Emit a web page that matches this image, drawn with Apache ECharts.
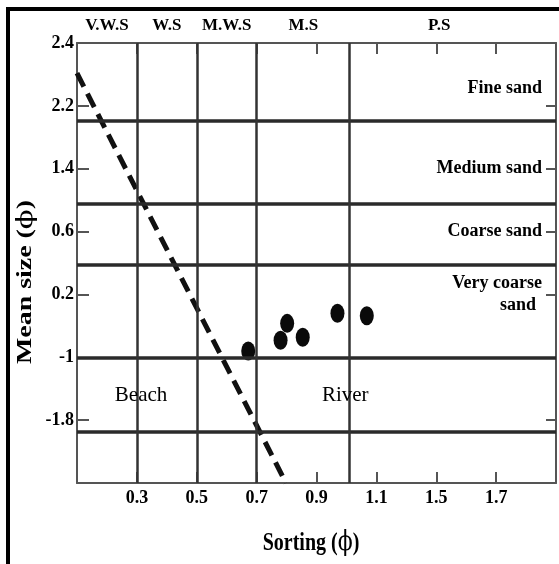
<!DOCTYPE html>
<html>
<head>
<meta charset="utf-8">
<script src="https://cdn.jsdelivr.net/npm/echarts@6/dist/echarts.min.js"></script>
<style>
html,body{margin:0;padding:0;background:#fff;}
#chart{width:559px;height:564px;}
</style>
</head>
<body>
<div id="chart"></div>
<script>
// ---- data (axis positions: the printed axes are ordinal, evenly spaced ticks) ----
var xTickLabels = ['', '0.3', '0.5', '0.7', '0.9', '1.1', '1.5', '1.7', ''];
var yTickLabels = ['', '-1.8', '-1', '0.2', '0.6', '1.4', '2.2', '2.4'];
var sizeClassLabels = ['', '', '', 'Very coarse\nsand', 'Coarse sand', 'Medium sand', 'Fine sand', ''];
var sortingClasses = ['V.W.S', 'W.S', 'M.W.S', 'M.S', 'P.S'];
var sortingClassPos = [0.5, 1.5, 2.5, 3.78, 6.05];
var sortingClassLevel = 7.27;
var sizeBoundaries = [5.76, 4.44, 3.47, 2.0, 0.81];
var sortingBoundaries = [1, 2, 3, 4.55];
var sampleSorting = [2.86, 3.40, 3.51, 3.77, 4.35, 4.84];
var sampleMean = [2.10, 2.27, 2.54, 2.32, 2.70, 2.66];
var divideLine = [[0, 6.52], [3.49, 0]];
var envNames = ['Beach', 'River'];
var envX = [1.07, 4.48];
var envY = [1.40, 1.40];

var FONT = 'Liberation Serif';
var chart = echarts.init(document.getElementById('chart'), null, {renderer: 'canvas'});

var axisLineStyle = {color: '#555', width: 2};
function xAx(pos, showLabel) {
  return {
    type: 'value', min: 0, max: 8, interval: 1, position: pos,
    axisLine: {show: true, onZero: false, lineStyle: axisLineStyle},
    axisTick: {show: true, inside: true, length: 11, lineStyle: axisLineStyle},
    axisLabel: {show: showLabel, formatter: function (v) { return xTickLabels[v] || ''; },
      color: '#000', fontFamily: FONT, fontWeight: 'bold', fontSize: 18, margin: 6},
    splitLine: {show: false}
  };
}

var option = {
  animation: false,
  backgroundColor: '#fff',
  grid: {left: 77, top: 43, width: 484, height: 440, containLabel: false},
  xAxis: [xAx('bottom', true), xAx('top', false)],
  yAxis: [
    {
      type: 'value', min: 0, max: 7, interval: 1, position: 'left',
      axisLine: {show: true, onZero: false, lineStyle: axisLineStyle},
      axisTick: {show: true, inside: true, length: 12, lineStyle: axisLineStyle},
      axisLabel: {formatter: function (v) { return yTickLabels[v] || ''; },
        color: '#000', fontFamily: FONT, fontWeight: 'bold', fontSize: 18, margin: 3},
      splitLine: {show: false}
    },
    {
      type: 'value', min: 0, max: 7, interval: 1, position: 'right',
      axisLine: {show: true, onZero: false, lineStyle: axisLineStyle},
      axisTick: {show: true, inside: true, length: 10, lineStyle: axisLineStyle},
      axisLabel: {
        inside: true, margin: 14,
        formatter: function (v) {
          var t = sizeClassLabels[v] || '';
          if (!t) return '';
          if (v === 6) return '{up|' + t + '}';
          if (t.indexOf('\n') >= 0) {
            var parts = t.split('\n');
            return '{vc|' + parts[0] + '}\n{vs|' + parts[1] + '}';
          }
          return t;
        },
        color: '#000', fontFamily: FONT, fontWeight: 'bold', fontSize: 18, align: 'right',
        rich: {
          up: {fontFamily: FONT, fontWeight: 'bold', fontSize: 18, color: '#000', padding: [0, 0, 36, 0]},
          vc: {fontFamily: FONT, fontWeight: 'bold', fontSize: 18, color: '#000', lineHeight: 22, align: 'right'},
          vs: {fontFamily: FONT, fontWeight: 'bold', fontSize: 18, color: '#000', lineHeight: 22, align: 'right', padding: [0, 6, 0, 0]}
        }
      },
      splitLine: {show: false}
    }
  ],
  graphic: [
    {type: 'rect', shape: {x: 6, y: 7, width: 4, height: 557}, style: {fill: '#000'}, z: 100},
    {type: 'rect', shape: {x: 6, y: 7, width: 553, height: 4}, style: {fill: '#000'}, z: 100},
    {
      type: 'text', x: 311, y: 543, scaleY: 1.3, z: 100,
      style: {
        text: '{b|Sorting (}{p|ϕ}{b|)}', align: 'center', verticalAlign: 'middle',
        rich: {
          b: {fontFamily: FONT, fontWeight: 'bold', fontSize: 20, fill: '#000'},
          p: {fontFamily: 'DejaVu Serif', fontWeight: 'normal', fontSize: 22, fill: '#000'}
        }
      }
    },
    {
      type: 'text', x: 26, y: 282, rotation: Math.PI / 2, scaleX: 1.33, z: 100,
      style: {
        text: '{b|Mean size (}{p|ϕ}{b|)}', align: 'center', verticalAlign: 'middle',
        rich: {
          b: {fontFamily: FONT, fontWeight: 'bold', fontSize: 21, fill: '#000'},
          p: {fontFamily: 'DejaVu Serif', fontWeight: 'normal', fontSize: 22, fill: '#000'}
        }
      }
    }
  ],
  series: [
    {
      type: 'line', data: divideLine, showSymbol: false, symbol: 'none', z: 3,
      lineStyle: {color: '#111', width: 5, type: [15, 8]},
      markLine: {
        silent: true, symbol: ['none', 'none'], label: {show: false},
        data: sizeBoundaries.map(function (v) {
          return {yAxis: v, lineStyle: {color: '#2a2a2a', width: 3.5, type: 'solid'}};
        }).concat(sortingBoundaries.map(function (v) {
          return {xAxis: v, lineStyle: {color: '#333', width: 2.5, type: 'solid'}};
        }))
      }
    },
    {
      type: 'scatter', z: 4,
      data: sampleSorting.map(function (x, i) { return [x, sampleMean[i]]; }),
      symbol: 'circle', symbolSize: [14, 19],
      itemStyle: {color: '#0a0a0a', opacity: 1}
    },
    {
      type: 'scatter', z: 5, clip: false, symbolSize: 0, silent: true,
      itemStyle: {opacity: 1},
      data: envNames.map(function (n, i) { return {name: n, value: [envX[i], envY[i]]}; }),
      label: {show: true, position: 'inside', formatter: '{b}', color: '#000',
        fontFamily: FONT, fontWeight: 'normal', fontSize: 21}
    },
    {
      type: 'scatter', z: 5, clip: false, symbolSize: 0, silent: true,
      itemStyle: {opacity: 1},
      data: sortingClasses.map(function (n, i) { return {name: n, value: [sortingClassPos[i], sortingClassLevel]}; }),
      label: {show: true, position: 'inside', formatter: '{b}', color: '#000',
        fontFamily: FONT, fontWeight: 'bold', fontSize: 17}
    }
  ]
};
chart.setOption(option);
</script>
</body>
</html>
